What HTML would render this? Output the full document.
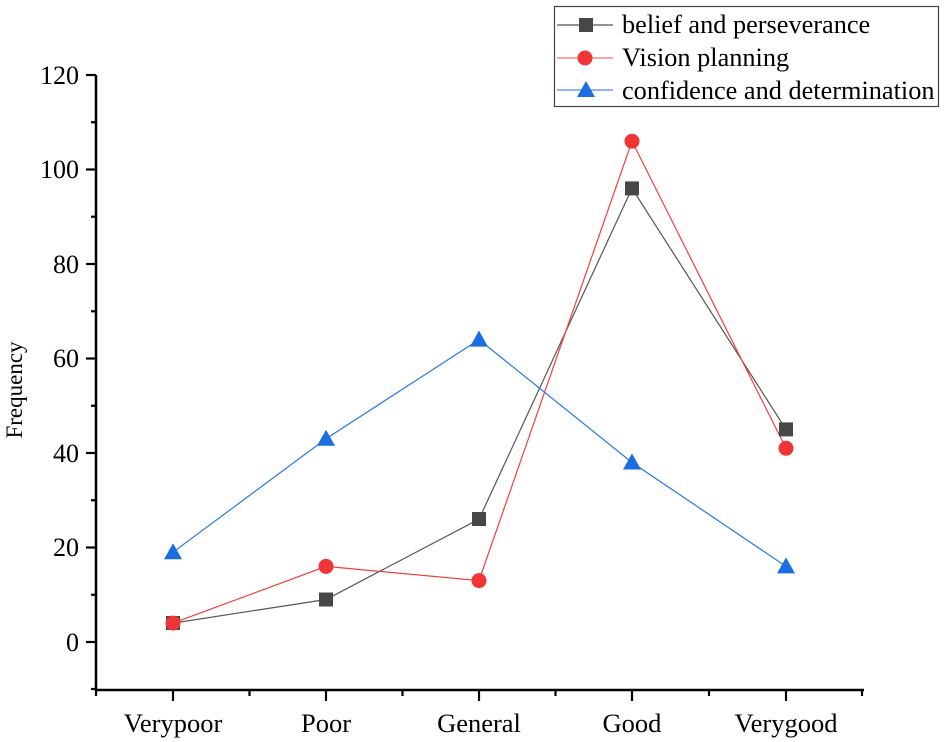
<!DOCTYPE html><html><head><style>body{margin:0;background:#fff}svg{display:block}text{font-family:"Liberation Serif",serif;fill:#000}</style></head><body>
<svg width="945" height="742" viewBox="0 0 945 742">
<g stroke="#000" stroke-width="2.5" fill="none">
<line x1="96" y1="75" x2="96" y2="691"/><line x1="95" y1="690" x2="864" y2="690"/>
</g>
<g stroke="#000" stroke-width="2.2">
<line x1="86" y1="642" x2="96" y2="642"/><line x1="86" y1="547.5" x2="96" y2="547.5"/><line x1="86" y1="453" x2="96" y2="453"/><line x1="86" y1="358.5" x2="96" y2="358.5"/><line x1="86" y1="264" x2="96" y2="264"/><line x1="86" y1="169.5" x2="96" y2="169.5"/><line x1="86" y1="75" x2="96" y2="75"/>
<line x1="91" y1="689" x2="96" y2="689"/><line x1="91" y1="594.75" x2="96" y2="594.75"/><line x1="91" y1="500.25" x2="96" y2="500.25"/><line x1="91" y1="405.75" x2="96" y2="405.75"/><line x1="91" y1="311.25" x2="96" y2="311.25"/><line x1="91" y1="216.75" x2="96" y2="216.75"/><line x1="91" y1="122.25" x2="96" y2="122.25"/>
<line x1="173" y1="690" x2="173" y2="701"/><line x1="326" y1="690" x2="326" y2="701"/><line x1="479" y1="690" x2="479" y2="701"/><line x1="632" y1="690" x2="632" y2="701"/><line x1="786" y1="690" x2="786" y2="701"/>
<line x1="96" y1="690" x2="96" y2="696"/><line x1="249.5" y1="690" x2="249.5" y2="696"/><line x1="402.5" y1="690" x2="402.5" y2="696"/><line x1="555.5" y1="690" x2="555.5" y2="696"/><line x1="709" y1="690" x2="709" y2="696"/><line x1="862" y1="690" x2="862" y2="696"/>
</g>
<g font-size="26" text-anchor="end">
<text x="79" y="651">0</text><text x="79" y="556">20</text><text x="79" y="462">40</text><text x="79" y="367">60</text><text x="79" y="273">80</text><text x="79" y="178">100</text><text x="79" y="84">120</text>
</g>
<g font-size="26.5" text-anchor="middle">
<text x="173" y="732">Verypoor</text><text x="326" y="732">Poor</text><text x="479" y="732">General</text><text x="632" y="732">Good</text><text x="786" y="732">Verygood</text>
</g>
<text font-size="23" text-anchor="middle" transform="translate(22,390) rotate(-90)">Frequency</text>
<polyline fill="none" stroke="#555" stroke-width="1.2" points="173,623.1 326,599.5 479,519.2 632,188.4 786,429.4"/>
<polyline fill="none" stroke="#f04040" stroke-width="1.2" points="173,623.1 326,566.4 479,580.6 632,141.2 786,448.3"/>
<polyline fill="none" stroke="#2a78e4" stroke-width="1.2" points="173,552.2 326,438.8 479,339.6 632,462.5 786,566.4"/>
<g fill="#474747"><rect x="166" y="616" width="14" height="14"/><rect x="319" y="592.5" width="14" height="14"/><rect x="472" y="512" width="14" height="14"/><rect x="625" y="181.4" width="14" height="14"/><rect x="779" y="422.4" width="14" height="14"/></g>
<g fill="#ef3535"><circle cx="173" cy="623.1" r="7.5"/><circle cx="326" cy="566.4" r="7.5"/><circle cx="479" cy="580.6" r="7.5"/><circle cx="632" cy="141.2" r="7.5"/><circle cx="786" cy="448.3" r="7.5"/></g>
<g fill="#1b6ee0">
<polygon points="173,543.2 164,559.2 182,559.2"/><polygon points="326,429.8 317,445.8 335,445.8"/><polygon points="479,330.6 470,346.6 488,346.6"/><polygon points="632,453.5 623,469.5 641,469.5"/><polygon points="786,557.4 777,573.4 795,573.4"/>
</g>
<rect x="554.5" y="6.5" width="384" height="100" fill="none" stroke="#444" stroke-width="1.2"/>
<line x1="557" y1="25" x2="613" y2="25" stroke="#555" stroke-width="1.2"/><rect x="579" y="18" width="14" height="14" fill="#474747"/>
<line x1="557" y1="58" x2="613" y2="58" stroke="#f07070" stroke-width="1.2"/><circle cx="585" cy="58" r="7.5" fill="#ef3535"/>
<line x1="557" y1="90" x2="613" y2="90" stroke="#4a8ae8" stroke-width="1.2"/><polygon points="586,81 577,97 595,97" fill="#1b6ee0"/>
<g font-size="26.3"><text x="622" y="33">belief and perseverance</text><text x="622" y="66">Vision planning</text><text x="622" y="99">confidence and determination</text></g>
</svg></body></html>
